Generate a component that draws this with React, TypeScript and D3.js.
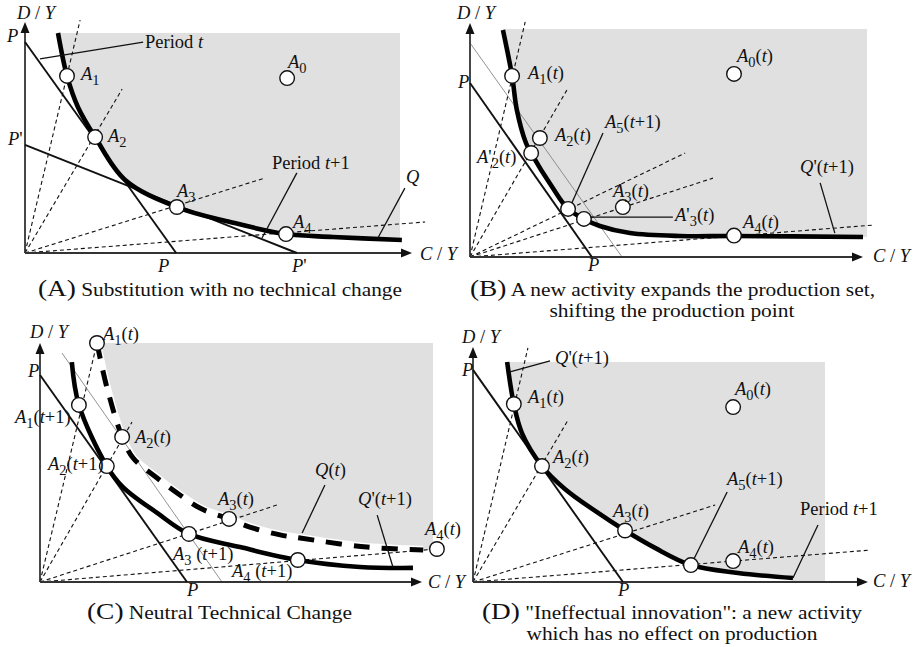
import React from "react";
import * as d3 from "d3";

type Pt = [number, number];

// ---------------- Panel A : Substitution with no technical change ----------------
const aIsoquantQ: Pt[] = [[8.8, 100], [11.2, 80.5], [14.1, 66.4], [18.7, 52.7], [26.7, 33.2], [40.5, 20.9], [54.7, 14.1], [69.6, 8.6], [82.1, 7.3], [100.5, 5.9]];
const aActivities: Pt[] = [[69.9, 79.5], [11.2, 80.5], [18.7, 52.7], [40.5, 20.9], [69.6, 8.6]];
const aPriceP: Pt[] = [[0, 95.9], [40.3, 0]];
const aPriceP2: Pt[] = [[0, 49.1], [72.5, 0]];
const aRays: Pt[] = [[14.7, 105.9], [25.9, 74.5], [64, 34.1], [106.7, 14.1]];
const aLeaders: Pt[][] = [
  [[4, 88.2], [31.5, 95.9]],
  [[72.5, 36.4], [63.2, 6.8]],
  [[101.3, 29.5], [94.1, 6.8]],
];

// ---------------- Panel B : new activity expands the production set ----------------
const bIsoquant: Pt[] = [[8.3, 99.6], [10.6, 79.4], [11.8, 64.5], [14.1, 50], [15.4, 45.6], [20.7, 30.7], [24.7, 21.1], [28.7, 16.7], [32.7, 13.6], [40.3, 10.5], [52.9, 9.2], [66.5, 9.2], [99, 8.8]];
const bActivities: Pt[] = [[66.5, 80.3], [10.6, 79.4], [17.6, 52.2], [15.4, 45.6], [24.7, 21.1], [28.7, 16.7], [38.5, 21.9], [66.5, 9.4]];
const bPriceP: Pt[] = [[0, 76.3], [30.7, 0]];
const bPriceThin: Pt[] = [[0, 93.9], [38.3, 0]];
const bRays: Pt[] = [[13.9, 103.1], [24.4, 73.2], [54.2, 45.6], [61.2, 34.6], [101.5, 14]];
const bLeaders: Pt[][] = [
  [[33.5, 54.4], [25.2, 21.9]],
  [[30.2, 17.5], [51.1, 17.5]],
  [[88.2, 32.5], [91.9, 10.5]],
];

// ---------------- Panel C : neutral technical change ----------------
const cIsoquantT: Pt[] = [[14.5, 100], [17, 81.6], [20.9, 60.7], [23.7, 51.9], [29.8, 43.5], [35.6, 36.4], [41.2, 30.5], [48.1, 26.4], [53.4, 23], [61.1, 19.7], [66.2, 18.4], [83.2, 14.6], [97.5, 13.4]];
const cIsoquantT1: Pt[] = [[8.1, 92], [9.9, 74.1], [17, 48.5], [21.1, 39.7], [29.8, 28.9], [37.9, 20.1], [50.9, 14.6], [65.6, 9.2], [81.4, 6.3], [94.9, 5.9]];
const cActivities: Pt[] = [[14.5, 100], [9.9, 74.1], [20.9, 60.7], [17, 48.5], [48.1, 26.4], [37.9, 20.1], [65.6, 9.2], [101, 13.8]];
const cPriceP: Pt[] = [[0, 86.6], [37.4, 0]];
const cPriceThin: Pt[] = [[5.6, 95.8], [46.3, 0]];
const cRays: Pt[] = [[14.5, 100], [23.4, 66.9], [60.3, 32.2], [101, 13.8]];
const cLeaders: Pt[][] = [
  [[72.5, 40.6], [66.7, 20.5]],
  [[85.8, 28], [89.8, 6.3]],
];

// ---------------- Panel D : ineffectual innovation ----------------
const dIsoquant: Pt[] = [[9.7, 100], [11.6, 80.9], [13.9, 67.7], [19.6, 52.7], [26.1, 42.3], [34.7, 32.3], [43.2, 23.4], [51.7, 15.5], [61.9, 7.7], [75.3, 4.1], [90.9, 1.8]];
const dActivities: Pt[] = [[73.9, 79.5], [11.6, 80.9], [19.6, 52.7], [43.2, 23.4], [61.9, 7.7], [73.9, 9.5]];
const dPriceP: Pt[] = [[0, 96.4], [42.6, 0]];
const dRays: Pt[] = [[15.6, 106.4], [27, 73.6], [68.8, 35], [112.8, 14.5]];
const dLeaders: Pt[][] = [
  [[10.5, 95.5], [21.9, 100.5]],
  [[72.2, 40.9], [62.2, 8.6]],
  [[98, 25.9], [90.9, 1.8]],
];

// ---------------- Text ----------------
const aLabels = ["*D* / *Y*", "*P*", "*P*'", "*P*", "*P*'", "*C* / *Y*", "*A*_1", "*A*_0", "*A*_2", "*A*_3", "*A*_4", "Period *t*", "Period *t*+1", "*Q*"];
const bLabels = ["*D* / *Y*", "*P*", "*P*", "*C* / *Y*", "*A*_1(*t*)", "*A*_0(*t*)", "*A*_2(*t*)", "*A*_5(*t*+1)", "*A*'_2(*t*)", "*A*_3(*t*)", "*A*'_3(*t*)", "*A*_4(*t*)", "*Q*'(*t*+1)"];
const cLabels = ["*D* / *Y*", "*A*_1(*t*)", "*P*", "*A*_1(*t*+1)", "*A*_2(*t*)", "*A*_2(*t*+1)", "*Q*(*t*)", "*A*_3(*t*)", "*Q*'(*t*+1)", "*A*_4(*t*)", "*A*_3 (*t*+1)", "*A*_4 (*t*+1)", "*P*", "*C* / *Y*"];
const dLabels = ["*D* / *Y*", "*P*", "*Q*'(*t*+1)", "*A*_1(*t*)", "*A*_0(*t*)", "*A*_2(*t*)", "*A*_5(*t*+1)", "*A*_3(*t*)", "Period *t*+1", "*A*_4(*t*)", "*P*", "*C* / *Y*"];
const captions = [
  { tag: "(A)", lines: ["Substitution with no technical change"] },
  { tag: "(B)", lines: ["A new activity expands the production set,", "shifting the production point"] },
  { tag: "(C)", lines: ["Neutral Technical Change"] },
  { tag: "(D)", lines: ["\"Ineffectual innovation\": a new activity", "which has no effect on production"] },
];

// ---------------- Layout (pixels) ----------------
const frames = [
  { ox: 25, oy: 253, w: 375, h: 220, axX: 103.2, axY: 105 },
  { ox: 470, oy: 257, w: 397, h: 228, axX: 99, axY: 102.6 },
  { ox: 40, oy: 582, w: 393, h: 239, axX: 97.2, axY: 100 },
  { ox: 473, oy: 582, w: 352, h: 220, axX: 112.2, axY: 106.8 },
];
const labelPos: Pt[][] = [
  [[17, 19], [7, 42], [8, 145], [158, 272], [292, 272], [420, 260], [81, 80], [288, 68], [108, 142], [177, 197], [293, 228], [145, 48], [272, 169], [406, 183]],
  [[457, 19], [458, 88], [588, 271], [873, 262], [528, 79], [737, 62], [555, 141], [605, 128], [477, 163], [613, 197], [675, 221], [743, 228], [800, 173]],
  [[30, 338], [103, 340], [28, 377], [15, 423], [135, 443], [48, 470], [315, 476], [218, 505], [358, 505], [425, 535], [173, 560], [232, 577], [187, 596], [428, 588]],
  [[462, 343], [462, 376], [555, 364], [528, 403], [735, 395], [553, 463], [727, 485], [613, 517], [800, 515], [738, 553], [618, 596], [873, 587]],
];
const captionPos = [
  { x: 38, y: 296, len: [364] },
  { x: 470, y: 296, len: [405, 245], cx: 672, y2: 317 },
  { x: 87, y: 619, len: [265] },
  { x: 482, y: 619, len: [380, 291], cx: 672, y2: 640 },
];

const FONT = "'Liberation Serif', 'Times New Roman', Times, serif";
const SHADE = "#e0e0e0";

type Seg = { t: string; it: boolean; sub: boolean };
function parse(s: string): Seg[] {
  const out: Seg[] = [];
  let it = false;
  for (let i = 0; i < s.length; i++) {
    const ch = s[i];
    if (ch === "*") { it = !it; continue; }
    if (ch === "_") { out.push({ t: s[i + 1], it: false, sub: true }); i++; continue; }
    const last = out[out.length - 1];
    if (last && !last.sub && last.it === it) last.t += ch;
    else out.push({ t: ch, it, sub: false });
  }
  return out;
}

function Rich({ s, x, y, size = 18.5 }: { s: string; x: number; y: number; size?: number }) {
  const segs = parse(s);
  let prevSub = false;
  return (
    <text x={x} y={y} fontFamily={FONT} fontSize={size} fill="#111">
      {segs.map((g, i) => {
        let dy = 0;
        if (g.sub && !prevSub) dy = 4.5;
        else if (!g.sub && prevSub) dy = -4.5;
        prevSub = g.sub;
        return (
          <tspan key={i} dy={dy || undefined} fontStyle={g.it ? "italic" : "normal"} fontSize={g.sub ? size * 0.78 : undefined}>
            {g.t}
          </tspan>
        );
      })}
    </text>
  );
}

type PanelData = {
  shadeCurve: Pt[];
  shadeToAxis: boolean;
  rays: Pt[];
  thin: Pt[][];
  price: Pt[][];
  curves: { pts: Pt[]; dashed: boolean }[];
  leaders: Pt[][];
  dots: Pt[];
};

const panels: PanelData[] = [
  { shadeCurve: aIsoquantQ, shadeToAxis: false, rays: aRays, thin: [], price: [aPriceP, aPriceP2], curves: [{ pts: aIsoquantQ, dashed: false }], leaders: aLeaders, dots: aActivities },
  { shadeCurve: bIsoquant, shadeToAxis: false, rays: bRays, thin: [bPriceThin], price: [bPriceP], curves: [{ pts: bIsoquant, dashed: false }], leaders: bLeaders, dots: bActivities },
  { shadeCurve: cIsoquantT, shadeToAxis: false, rays: cRays, thin: [cPriceThin], price: [cPriceP], curves: [{ pts: cIsoquantT, dashed: true }, { pts: cIsoquantT1, dashed: false }], leaders: cLeaders, dots: cActivities },
  { shadeCurve: dIsoquant, shadeToAxis: true, rays: dRays, thin: [], price: [dPriceP], curves: [{ pts: dIsoquant, dashed: false }], leaders: dLeaders, dots: dActivities },
];

function Panel({ idx }: { idx: number }) {
  const f = frames[idx];
  const p = panels[idx];
  const x = d3.scaleLinear().domain([0, 100]).range([f.ox, f.ox + f.w]);
  const y = d3.scaleLinear().domain([0, 100]).range([f.oy, f.oy - f.h]);
  const smooth = d3.line<Pt>().x((d) => x(d[0])).y((d) => y(d[1])).curve(d3.curveCatmullRom.alpha(0.5));
  const straight = d3.line<Pt>().x((d) => x(d[0])).y((d) => y(d[1]));
  const sc = p.shadeCurve;
  const last = sc[sc.length - 1];
  let shadePath = smooth(sc) || "";
  if (p.shadeToAxis) shadePath += `L${x(last[0])},${y(0)}L${x(100)},${y(0)}`;
  else shadePath += `L${x(100)},${y(last[1])}`;
  shadePath += `L${x(100)},${y(100)}L${x(sc[0][0])},${y(100)}Z`;
  const clipId = `clip${idx}`;
  const x0 = x(0), y0 = y(0);
  const tx = x(f.axX), ty = y(f.axY);
  return (
    <g>
      <defs>
        <clipPath id={clipId}>
          <rect x={x(0)} y={y(100)} width={x(100) - x(0)} height={y(0) - y(100)} />
        </clipPath>
      </defs>
      <path d={shadePath} fill={SHADE} clipPath={`url(#${clipId})`} />
      {p.curves.filter((c) => c.dashed).map((c, i) => (
        <path key={"w" + i} d={smooth(c.pts) || ""} fill="none" stroke="#fff" strokeWidth={8} />
      ))}
      {p.rays.map((r, i) => (
        <path key={"r" + i} d={straight([[0, 0], r]) || ""} stroke="#111" strokeWidth={1.1} strokeDasharray="4 3" fill="none" />
      ))}
      {p.thin.map((l, i) => (
        <path key={"t" + i} d={straight(l) || ""} stroke="#777" strokeWidth={0.8} fill="none" />
      ))}
      <line x1={x0} y1={y0} x2={tx - 4} y2={y0} stroke="#333" strokeWidth={1.8} />
      <line x1={x0} y1={y0} x2={x0} y2={ty + 4} stroke="#333" strokeWidth={1.8} />
      <path d={`M${tx},${y0}L${tx - 11},${y0 - 4.5}L${tx - 11},${y0 + 4.5}Z`} fill="#111" />
      <path d={`M${x0},${ty}L${x0 - 4.5},${ty + 11}L${x0 + 4.5},${ty + 11}Z`} fill="#111" />
      {p.price.map((l, i) => (
        <path key={"p" + i} d={straight(l) || ""} stroke="#111" strokeWidth={1.9} fill="none" />
      ))}
      {p.curves.map((c, i) => (
        <path key={"c" + i} d={smooth(c.pts) || ""} fill="none" stroke="#000" strokeWidth={c.dashed ? 5 : 4.6} strokeDasharray={c.dashed ? "16 12" : undefined} />
      ))}
      {p.leaders.map((l, i) => (
        <path key={"l" + i} d={straight(l) || ""} stroke="#111" strokeWidth={1.3} fill="none" />
      ))}
      {p.dots.map((d, i) => (
        <circle key={"d" + i} cx={x(d[0])} cy={y(d[1])} r={7.3} fill="#fff" stroke="#111" strokeWidth={1.4} />
      ))}
    </g>
  );
}

export default function App() {
  const labelSets = [aLabels, bLabels, cLabels, dLabels];
  return (
    <svg width={917} height={647} viewBox="0 0 917 647" style={{ position: "absolute", left: 0, top: 0, background: "#fff" }}>
      <rect x={0} y={0} width={917} height={647} fill="#fff" />
      {[0, 1, 2, 3].map((i) => <Panel key={i} idx={i} />)}
      {labelSets.map((set, pi) =>
        set.map((s, li) => <Rich key={pi + "-" + li} s={s} x={labelPos[pi][li][0]} y={labelPos[pi][li][1]} />)
      )}
      {captions.map((c, i) => {
        const cp = captionPos[i];
        return (
          <g key={"cap" + i} fontFamily={FONT} fill="#111">
            <text x={cp.x} y={cp.y} fontSize={18} textLength={cp.len[0]} lengthAdjust="spacingAndGlyphs">
              <tspan fontSize={23}>{c.tag}</tspan>
              <tspan> {c.lines[0]}</tspan>
            </text>
            {c.lines[1] && (
              <text x={cp.cx} y={cp.y2} fontSize={18} textAnchor="middle" textLength={cp.len[1]} lengthAdjust="spacingAndGlyphs">
                {c.lines[1]}
              </text>
            )}
          </g>
        );
      })}
    </svg>
  );
}
